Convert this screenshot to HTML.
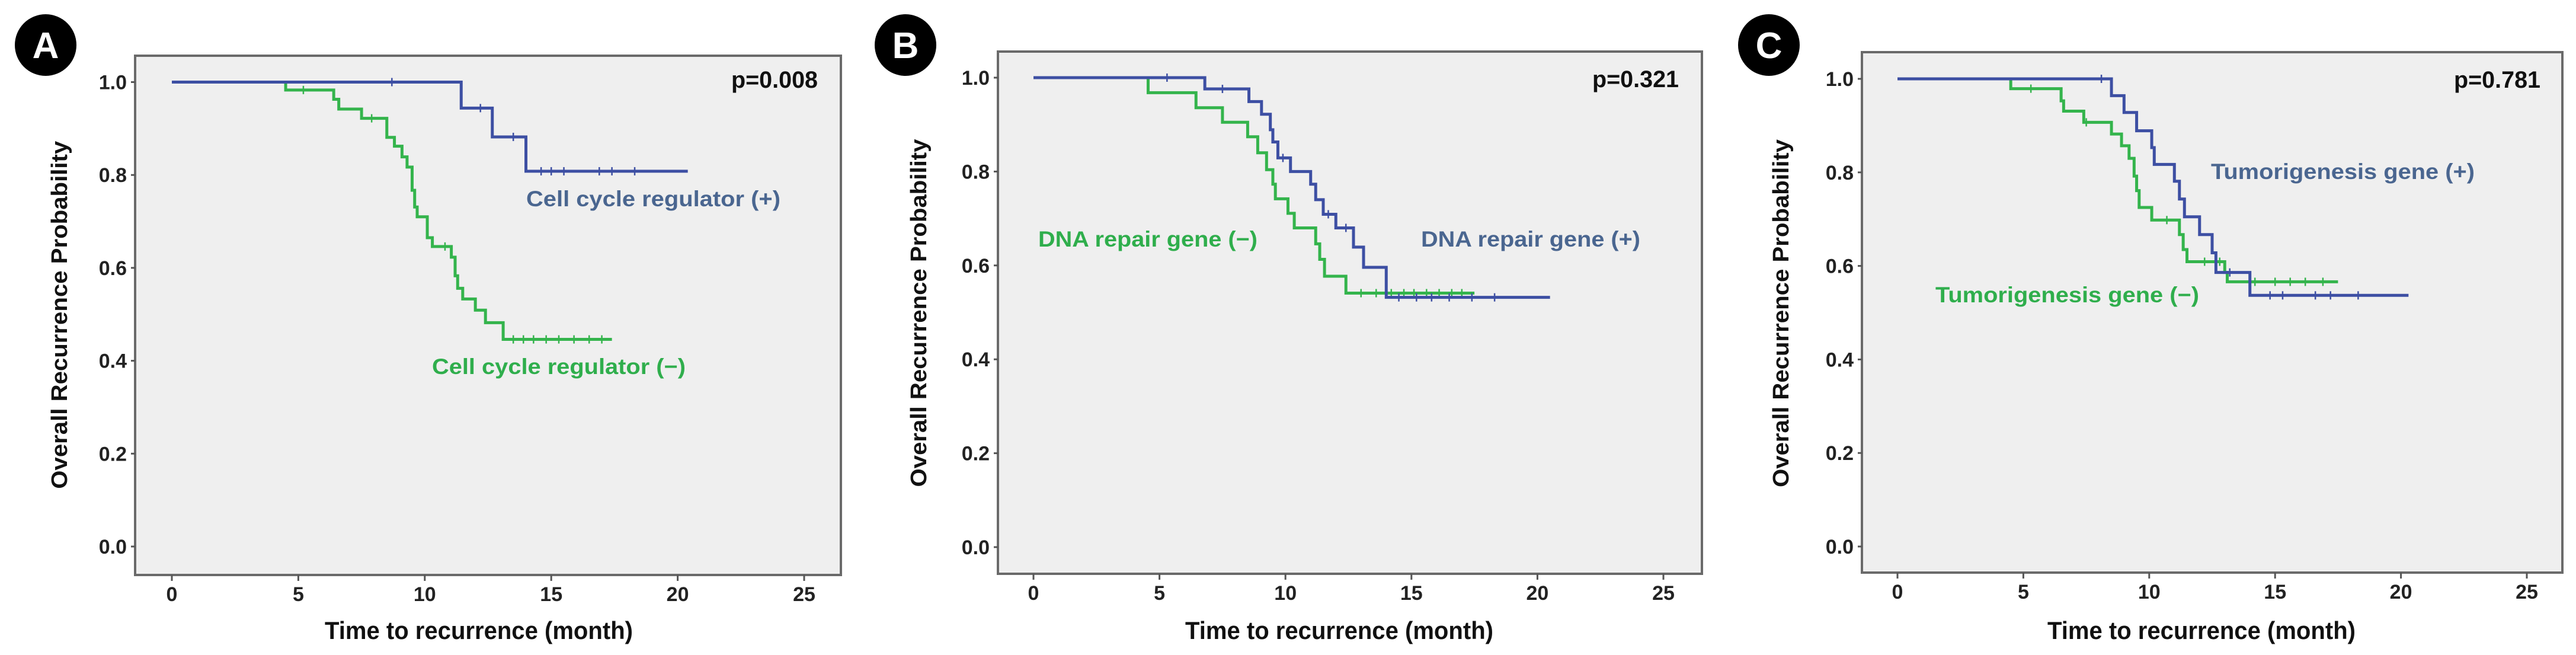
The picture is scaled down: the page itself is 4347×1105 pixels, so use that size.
<!DOCTYPE html>
<html><head><meta charset="utf-8"><style>
html,body{margin:0;padding:0;background:#fff}
svg{display:block}
text{font-family:"Liberation Sans",Arial,sans-serif;font-weight:bold}
</style></head><body>
<svg id="fig" width="4347" height="1105" viewBox="0 0 4347 1105" xmlns="http://www.w3.org/2000/svg"></svg>
<script>
// ---- data ----
const xTicks = [0, 5, 10, 15, 20, 25];
const yTicks = [0.0, 0.2, 0.4, 0.6, 0.8, 1.0];
const panelLetters = ["A", "B", "C"];
const pValues = ["p=0.008", "p=0.321", "p=0.781"];
const posLabels = ["Cell cycle regulator (+)", "DNA repair gene (+)", "Tumorigenesis gene (+)"];
const negLabels = ["Cell cycle regulator (\u2212)", "DNA repair gene (\u2212)", "Tumorigenesis gene (\u2212)"];

// Panel A
const aPosT = [0, 11.44, 12.67, 14.0, 20.4];
const aPosS = [1.0, 0.944, 0.882, 0.808, 0.808];
const aPosCens = [8.7, 12.2, 13.5, 14.6, 15.0, 15.5, 16.9, 17.4, 18.3];
const aNegT = [0, 4.5, 6.4, 6.6, 7.5, 8.5, 8.8, 9.1, 9.3, 9.5, 9.6, 9.7, 10.1, 10.3, 11.05, 11.2, 11.3, 11.5, 12.0, 12.4, 13.1, 17.4];
const aNegS = [1.0, 0.983, 0.963, 0.942, 0.922, 0.881, 0.862, 0.839, 0.817, 0.767, 0.731, 0.710, 0.665, 0.646, 0.623, 0.583, 0.556, 0.533, 0.509, 0.482, 0.446, 0.446];
const aNegCens = [5.2, 7.9, 10.8, 13.5, 13.9, 14.3, 14.8, 15.3, 15.9, 16.5, 17.0];

// Panel B
const bPosT = [0, 6.8, 8.55, 9.05, 9.4, 9.5, 9.7, 10.2, 11.0, 11.2, 11.5, 12.0, 12.7, 13.1, 14.0, 20.5];
const bPosS = [1.0, 0.976, 0.949, 0.922, 0.889, 0.863, 0.829, 0.800, 0.773, 0.740, 0.709, 0.680, 0.639, 0.596, 0.532, 0.532];
const bPosCens = [5.3, 7.5, 9.9, 11.7, 12.4, 14.5, 15.2, 15.8, 16.5, 17.4, 18.3];
const bNegT = [0, 4.55, 6.45, 7.5, 8.5, 8.9, 9.25, 9.5, 9.6, 10.1, 10.35, 11.2, 11.36, 11.55, 12.4, 17.5];
const bNegS = [1.0, 0.968, 0.936, 0.905, 0.874, 0.840, 0.804, 0.773, 0.742, 0.711, 0.680, 0.646, 0.613, 0.577, 0.541, 0.541];
const bNegCens = [13.0, 13.6, 14.2, 14.7, 15.1, 15.6, 16.1, 16.6, 17.0];

// Panel C
const cPosT = [0, 8.5, 9.0, 9.5, 10.1, 10.2, 11.0, 11.2, 11.4, 12.0, 12.5, 12.65, 14.0, 20.3];
const cPosS = [1.0, 0.964, 0.928, 0.889, 0.853, 0.817, 0.781, 0.743, 0.705, 0.667, 0.628, 0.586, 0.537, 0.537];
const cPosCens = [8.1, 13.2, 14.8, 15.3, 16.6, 17.2, 18.3];
const cNegT = [0, 4.5, 6.5, 6.6, 7.4, 8.5, 8.9, 9.2, 9.4, 9.5, 9.6, 10.1, 11.2, 11.35, 11.5, 13.0, 13.1, 17.5];
const cNegS = [1.0, 0.979, 0.953, 0.931, 0.907, 0.882, 0.857, 0.830, 0.792, 0.761, 0.725, 0.698, 0.667, 0.635, 0.609, 0.586, 0.566, 0.566];
const cNegCens = [5.3, 7.5, 10.7, 12.2, 12.8, 14.2, 15.0, 15.6, 16.2, 16.9];

// ---- layout ----
const NS = "http://www.w3.org/2000/svg";
const svg = document.getElementById("fig");
function mk(tag, attrs, parent) {
  const e = document.createElementNS(NS, tag);
  for (const k in attrs) e.setAttribute(k, attrs[k]);
  (parent || svg).appendChild(e);
  return e;
}
const panels = [
  {box:[228,94,1419,970], x0:290, x25:1357, y1:138.5, y0:922, badge:[77,76], yTitleX:100, xTitleX:808,
   pX:1380, pY:148, posXY:[888,348,429], negXY:[729,631,428],
   pos:[aPosT,aPosS,aPosCens], neg:[aNegT,aNegS,aNegCens]},
  {box:[1684,87,2872,968], x0:1744, x25:2807, y1:131, y0:923, badge:[1528,76], yTitleX:1550, xTitleX:2260,
   pX:2833, pY:147, posXY:[2398,416,370], negXY:[1752,416,370],
   pos:[bPosT,bPosS,bPosCens], neg:[bNegT,bNegS,bNegCens]},
  {box:[3142,88,4324,966], x0:3202, x25:4264, y1:133, y0:922, badge:[2985,76], yTitleX:3005, xTitleX:3715,
   pX:4287, pY:148, posXY:[3731,302,445], negXY:[3266,510,445],
   pos:[cPosT,cPosS,cPosCens], neg:[cNegT,cNegS,cNegCens]}
];
const BLUE = "#3d4fa3", GREEN = "#34b44c", BLUE_TXT = "#4a6690", GREEN_TXT = "#2fae4c";

panels.forEach((p, i) => {
  const g = mk("g", {});
  
  
  const X = t => p.x0 + (p.x25 - p.x0) * t / 25;
  const Y = s => p.y0 - (p.y0 - p.y1) * s;
  const [l, t, r, b] = p.box;

  const bg = mk("rect", {x:l, y:t, width:r-l, height:b-t, fill:"#efefef", stroke:"#6a6a6a", "stroke-width":4}, g);
  
  

  // badge
  const bc = mk("circle", {cx:p.badge[0], cy:p.badge[1], r:52, fill:"#000"}, g);
  
  
  const bt = mk("text", {x:p.badge[0], y:p.badge[1]+22, "text-anchor":"middle", "font-size":62, fill:"#fff"}, g);
  bt.textContent = panelLetters[i];
  
  

  // y ticks
  yTicks.forEach(v => {
    const tk = mk("line", {x1:l-7, x2:l, y1:Y(v), y2:Y(v), stroke:"#555", "stroke-width":3}, g);
    
    
    const tl = mk("text", {x:l-14, y:Y(v)+12, "text-anchor":"end", "font-size":34, fill:"#222"}, g);
    tl.textContent = v.toFixed(1);
    
    
  });
  // x ticks
  xTicks.forEach(v => {
    const tk = mk("line", {x1:X(v), x2:X(v), y1:b, y2:b+10, stroke:"#555", "stroke-width":3}, g);
    
    
    const tl = mk("text", {x:X(v), y:b+44, "text-anchor":"middle", "font-size":34, fill:"#222"}, g);
    tl.textContent = String(v);
    
    
  });
  // axis titles
  const yt = mk("text", {x:0, y:0, "text-anchor":"middle", "font-size":38, fill:"#111",
    transform:`translate(${p.yTitleX+13},${(p.y1+p.y0)/2+1}) rotate(-90)`, textLength:587, lengthAdjust:"spacingAndGlyphs"}, g);
  yt.textContent = "Overall Recurrence Probability";
  
  
  const xt = mk("text", {x:p.xTitleX, y:1078, "text-anchor":"middle", "font-size":42, fill:"#111", textLength:520, lengthAdjust:"spacingAndGlyphs"}, g);
  xt.textContent = "Time to recurrence (month)";
  
  

  // p-value
  const pv = mk("text", {x:p.pX, y:p.pY, "text-anchor":"end", "font-size":40, fill:"#111", textLength:146, lengthAdjust:"spacingAndGlyphs"}, g);
  pv.textContent = pValues[i];
  
  

  // curves
  function curve(ser, color, name) {
    const [T, S, C] = ser;
    let d = `M${X(T[0])},${Y(S[0])}`;
    for (let k = 1; k < T.length; k++) {
      d += ` H${X(T[k])} V${Y(S[k])}`;
    }
    const path = mk("path", {d:d, fill:"none", stroke:color, "stroke-width":5, "stroke-linejoin":"miter"}, g);
    
    
    C.forEach(c => {
      let s = S[0];
      for (let k = 0; k < T.length; k++) if (T[k] <= c) s = S[k];
      const cm = mk("line", {x1:X(c), x2:X(c), y1:Y(s)-7, y2:Y(s)+7, stroke:color, "stroke-width":2.5}, g);
      
      
    });
  }
  curve(p.neg, GREEN, 'negative-group');
  curve(p.pos, BLUE, 'positive-group');

  const pl = mk("text", {x:p.posXY[0], y:p.posXY[1], "font-size":37, fill:BLUE_TXT, textLength:p.posXY[2], lengthAdjust:"spacingAndGlyphs"}, g);
  pl.textContent = posLabels[i];
  
  
  const nl = mk("text", {x:p.negXY[0], y:p.negXY[1], "font-size":37, fill:GREEN_TXT, textLength:p.negXY[2], lengthAdjust:"spacingAndGlyphs"}, g);
  nl.textContent = negLabels[i];
  
  
});
</script>
</body></html>
